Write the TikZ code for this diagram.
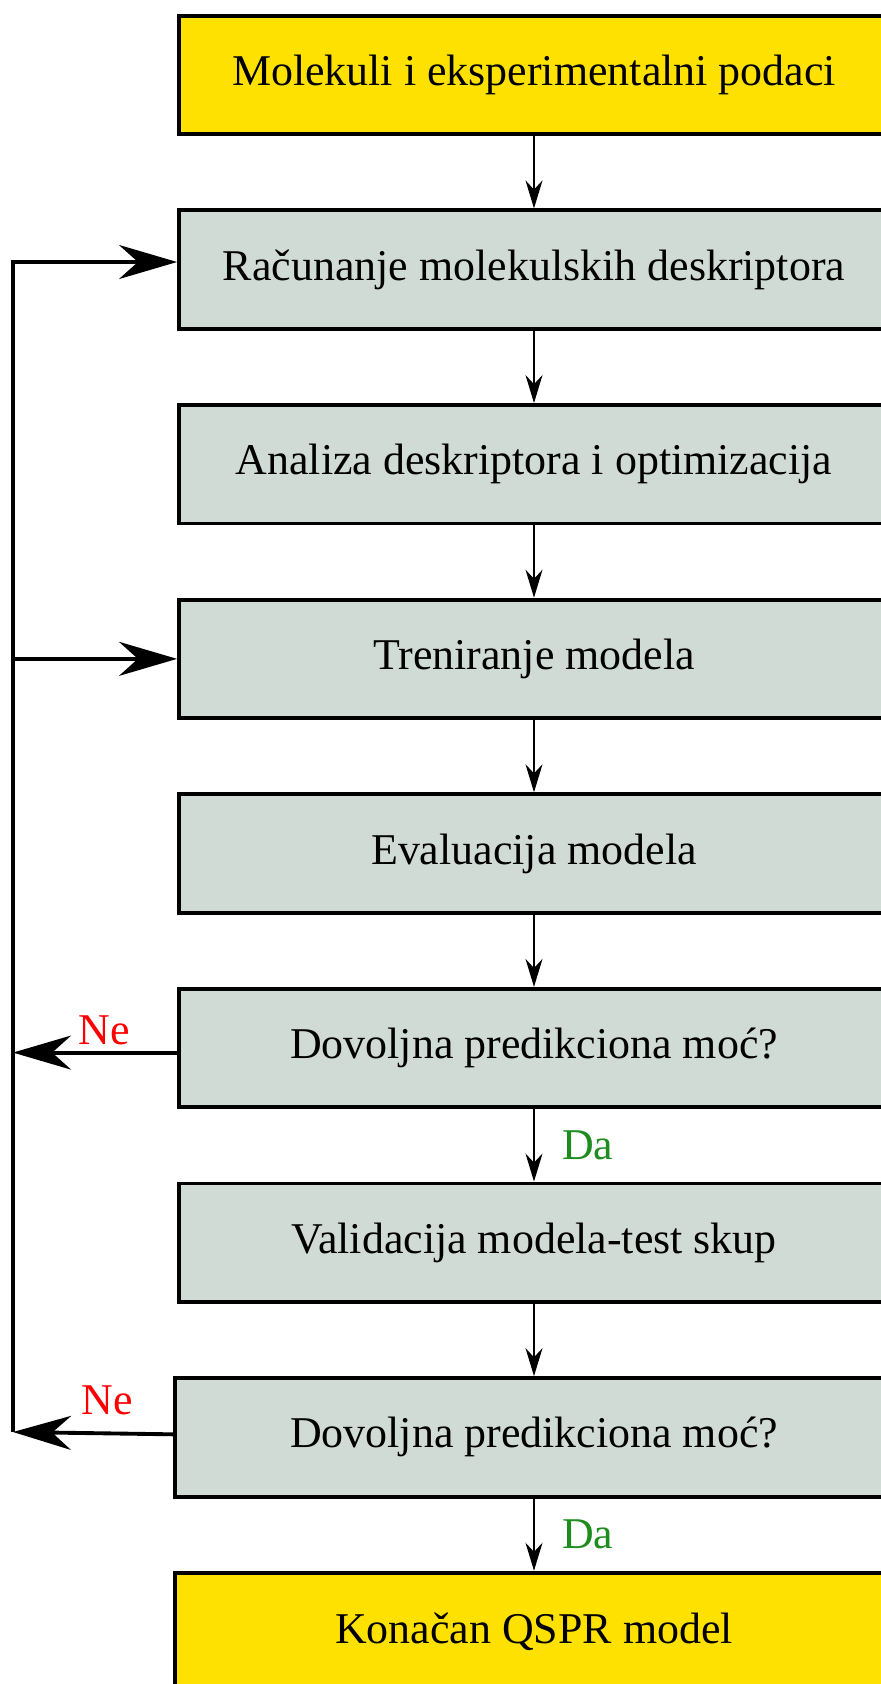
\documentclass[tikz,border=0pt]{standalone}
\usepackage{fontspec}
\setmainfont{Liberation Serif}
\usetikzlibrary{arrows.meta, positioning}
\definecolor{qsprYellow}{HTML}{FFE100}
\definecolor{qsprGray}{HTML}{D1DBD6}
\definecolor{noRed}{HTML}{FF0000}
\definecolor{yesGreen}{HTML}{1E8C1E}
\tikzset{
  arrowS/.style={-{Stealth[length=5.6mm, width=3.4mm]}, black, line width=0.75pt},
  arrowL/.style={-{Stealth[length=11.6mm, width=6.8mm]}, black, line width=2.2pt},
  boxGray/.style={rectangle, draw=black, fill=qsprGray, line width=2.2pt,
                  align=center, minimum width=14.2cm, minimum height=2.37cm},
  boxYellow/.style={boxGray, fill=qsprYellow},
  labelNe/.style={text=noRed},
  labelDa/.style={text=yesGreen},
}

\begin{document}
\begin{tikzpicture}[font=\fontsize{25}{30}\selectfont, node distance=1.445cm]
    \useasboundingbox (0,0) rectangle (17.6,-33.68);
    \node[boxYellow] (input) at (10.68,-1.5) {Molekuli i eksperimentalni podaci};
    \node[boxGray, below=of input] (desc) {Računanje molekulskih deskriptora};
    \node[boxGray, below=of desc] (optim) {Analiza deskriptora i optimizacija};
    \node[boxGray, below=of optim] (train) {Treniranje modela};
    \node[boxGray, below=of train] (eval) {Evaluacija modela};
    \node[boxGray, below=of eval] (check1) {Dovoljna predikciona moć?};
    \node[boxGray, below=of check1] (valid) {Validacija modela-test skup};
    \node[boxGray, below=of valid, minimum width=14.36cm] (check2) {Dovoljna predikciona moć?};
    \node[boxYellow, below=of check2, minimum width=14.36cm] (final) {Konačan QSPR model};
    \coordinate (loopTop) at (0.26,-5.24);
    \coordinate (loopBot) at (0.26,-28.64);
    \draw[arrowS] (input) -- (desc);
    \draw[arrowS] (desc) -- (optim);
    \draw[arrowS] (optim) -- (train);
    \draw[arrowS] (train) -- (eval);
    \draw[arrowS] (eval) -- (check1);
    \draw[arrowS] (check1) -- node[labelDa, right=0.43cm] {Da} (valid);
    \draw[arrowS] (valid) -- (check2);
    \draw[arrowS] (check2) -- node[labelDa, right=0.43cm] {Da} (final);
    \draw[arrowL] (loopBot) -- (loopTop) -- (loopTop -| desc.west);
    \draw[arrowL] (loopTop |- train.west) -- (train.west);
    \draw[arrowL] ([yshift=-0.09cm]check1.west) --
      node[labelNe, above, xshift=0.18cm] {Ne}
      ([yshift=-0.09cm]check1.west -| loopTop);
    \draw[arrowL] ([yshift=0.06cm]check2.west) --
      node[labelNe, above, xshift=0.28cm, yshift=0.2cm] {Ne}
      (loopBot);
\end{tikzpicture}
\end{document}
